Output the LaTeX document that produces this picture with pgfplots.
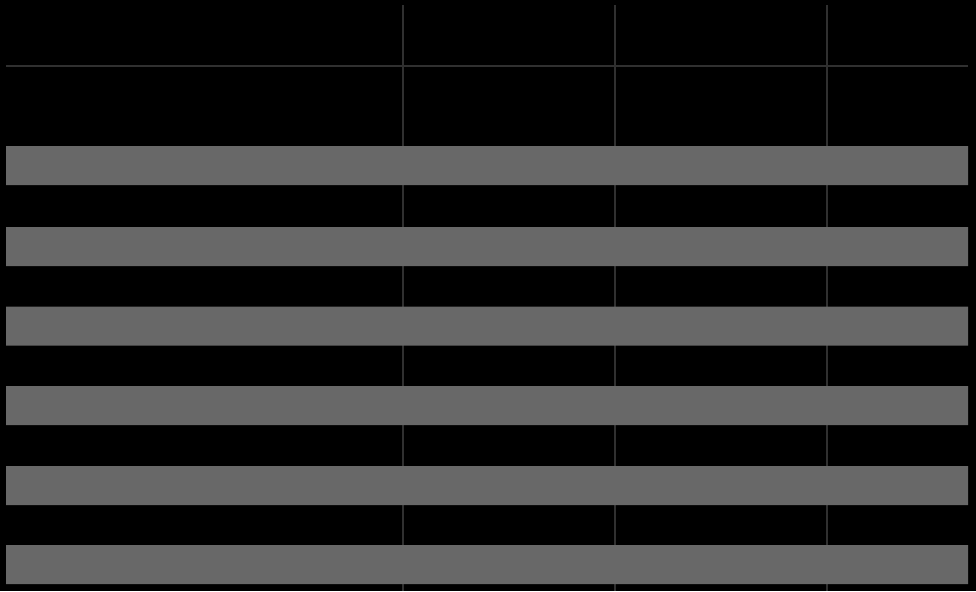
\documentclass[border=0pt]{standalone}
\usepackage{pgfplots}
\pgfplotsset{compat=1.18}
\definecolor{barGray}{RGB}{104,104,104}
\definecolor{gridGray}{RGB}{48,48,48}
\begin{document}
\begin{tikzpicture}
\begin{axis}[%
  scale only axis,%
  width=9.76cm,%
  height=5.91cm,%
  xmin=-6, xmax=970,%
  ymin=0, ymax=591,%
  y dir=reverse,%
  axis lines=none,%
  axis background/.style={fill=black},%
  clip=true,%
  lineStyle/.style={gridGray, line width=0.65pt, mark=none},%
  barStyle/.style={xbar, bar width=39, fill=barGray, draw=none, bar shift=0pt}%
]
% grid lines behind the bars
\addplot[lineStyle] coordinates {(397,5) (397,591)};
\addplot[lineStyle] coordinates {(609,5) (609,591)};
\addplot[lineStyle] coordinates {(821,5) (821,591)};
\addplot[lineStyle] coordinates {(0,66) (962,66)};
% bars
\addplot[barStyle] coordinates {
  (962,165.5)
  (962,246.5)
  (962,326)
  (962,405.5)
  (962,485.5)
  (962,564.5)
};
\end{axis}
\end{tikzpicture}
\end{document}
